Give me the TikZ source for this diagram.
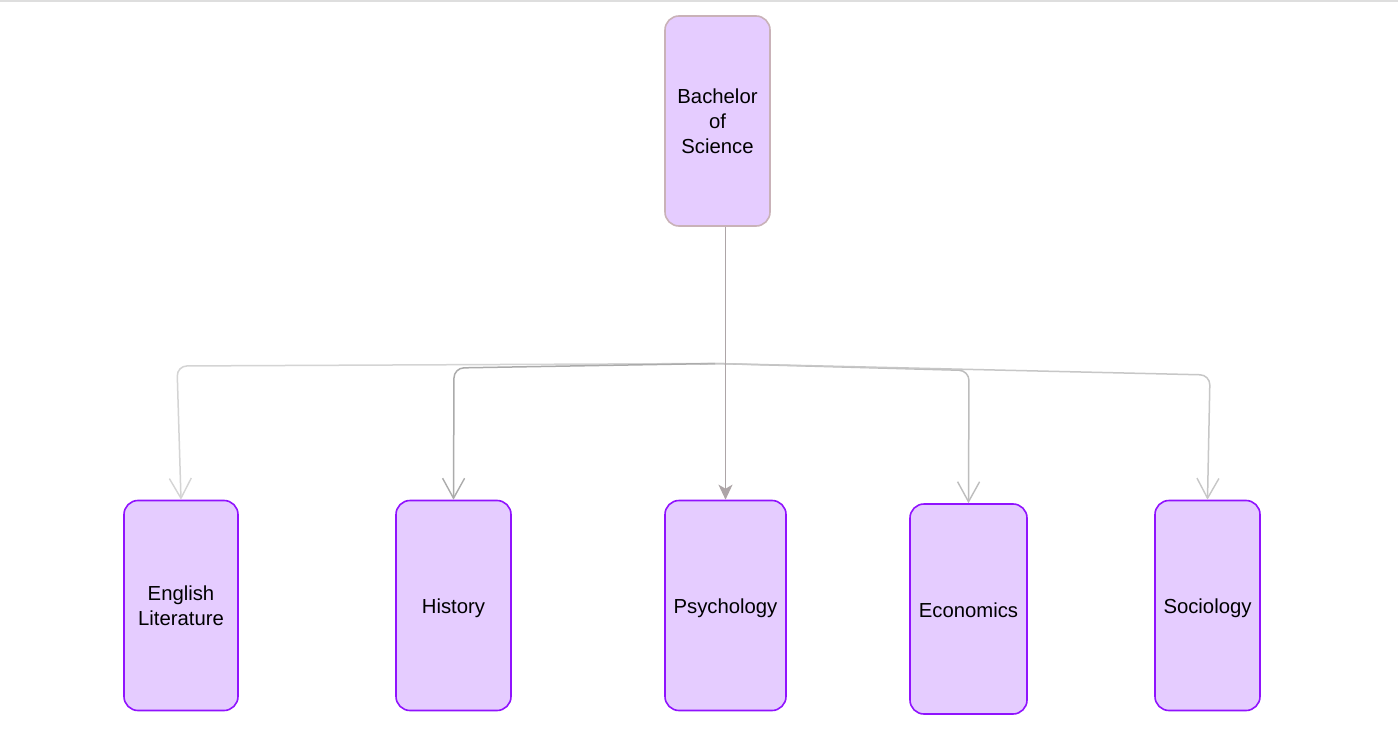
\documentclass[tikz,border=0pt]{standalone}
\usepackage{fontspec}
\setmainfont{Liberation Sans}
\usetikzlibrary{arrows.meta}
\definecolor{boxfill}{HTML}{E5CCFF}
\definecolor{boxline}{HTML}{9013FE}
\definecolor{topline}{HTML}{C9B2B8}
\definecolor{mainarrow}{HTML}{ADA5A7}
\tikzset{
  box/.style={draw=boxline, fill=boxfill, line width=1.6pt, rounded corners=14pt,
    minimum width=#1, minimum height=210pt, align=center, inner sep=0pt,
    font=\fontsize{20.3}{25}\selectfont},
  box/.default=110pt,
  oneline/.style={text height=20pt, text depth=4pt},
  conn/.style={line width=1.5pt, rounded corners=10pt, -{Straight Barb[length=20pt,width=22pt,line width=1.4pt]}},
}
\begin{document}
\begin{tikzpicture}[x=1pt,y=-1pt]
\useasboundingbox (0,0) rectangle (1398,733);
\fill[white] (0,0) rectangle (1398,733);
\draw[line width=1.5pt, color=black!13] (0,0.8) -- (1398,0.8);
% nodes
\node[box=105pt, draw=topline] (bs) at (717.5,121) {Bachelor\\ of\\ Science };
\node[box=114pt] (eng) at (181,605.5) {English\\Literature};
\node[box=115pt, oneline] (his) at (453.5,605.5) {History};
\node[box=121pt, oneline] (psy) at (725.5,605.5) {Psychology};
\node[box=117pt, oneline] (eco) at (968.5,609) {Economics};
\node[box=105pt, oneline] (soc) at (1207.5,605.5) {Sociology};
\coordinate (hub) at (715,363.5);
\coordinate (stub) at (700,364);
% connectors
\draw[conn, color=black!17] (hub) -- (177,366) -- (eng.north);
\draw[conn, color=black!33] (hub) -- (454,368) -- (his.north);
\draw[conn, color=black!26] (hub) -- (969,370.5) -- (eco.north);
\draw[conn, color=black!22] (hub) -- (1210,375) -- (soc.north);
\draw[line width=1.5pt, color=black!30] (stub) -- (hub);
\draw[line width=1.7pt, color=mainarrow, -{Stealth[length=15pt,width=14pt,inset=4pt]}] (bs.south -| psy.north) -- (psy.north);
\end{tikzpicture}
\end{document}
